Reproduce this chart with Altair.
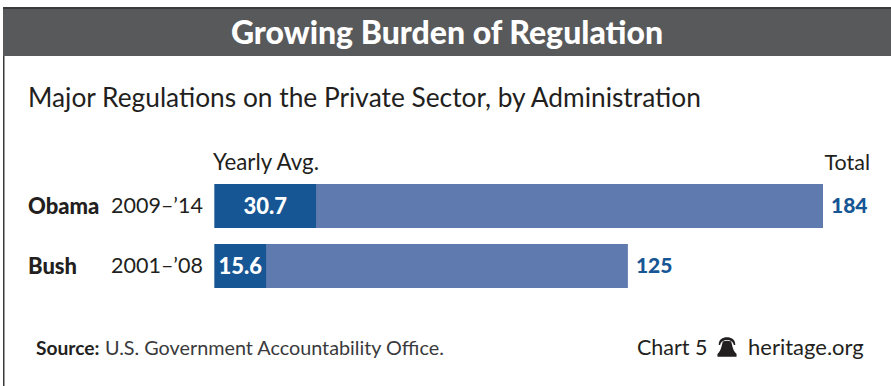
import altair as alt
import pandas as pd

# Values
administrations = ["Obama", "Bush"]
periods = ["2009–’14", "2001–’08"]
yearly_avg = [30.7, 15.6]
totals = [184, 125]

NAVY = "#165694"
STEEL = "#5f7aaf"
INK = "#231f20"
SLATE = "#58595b"
RULE = "#3a3a3c"
FONT = "Lato"

# Liberty-bell logo in symbol units
BELL = (
    "M-0.85 -0.2 C-0.85 -0.8 -0.45 -1 0 -1 C0.45 -1 0.85 -0.8 0.85 -0.2 "
    "L0.7 -0.2 C0.62 -0.58 0.32 -0.72 0 -0.72 C-0.32 -0.72 -0.62 -0.58 -0.7 -0.2 Z "
    "M-0.42 -0.56 C-0.15 -0.66 0.15 -0.66 0.42 -0.56 C0.52 -0.3 0.58 0.25 0.82 0.55 "
    "L0.98 0.72 L0.98 1 L-0.98 1 L-0.98 0.72 L-0.82 0.55 C-0.58 0.25 -0.52 -0.3 -0.42 -0.56 Z"
)

rows = pd.DataFrame(
    {"admin": administrations, "period": periods, "avg": yearly_avg, "total": totals}
)

x_scale = alt.Scale(domain=[0, 184], range=[214.5, 823])
y_scale = alt.Scale(
    domain=administrations, range=[184, 288], paddingInner=0.2667, paddingOuter=0
)
x_at = lambda f: alt.X(f, type="quantitative", scale=x_scale, axis=None)
y_band = alt.Y("admin:N", scale=y_scale, axis=None, sort=administrations)
y_mid = alt.Y("admin:N", scale=y_scale, axis=None, bandPosition=0.5, sort=administrations)


def note(text, x, y, size, color=INK, weight="normal", align="left"):
    """Fixed piece of text placed in page pixels."""
    return (
        alt.Chart(pd.DataFrame({"t": [text]}))
        .mark_text(
            font=FONT,
            fontSize=size,
            fontWeight=weight,
            color=color,
            align=align,
            baseline="alphabetic",
        )
        .encode(text="t:N", x=alt.value(x), y=alt.value(y))
    )


def panel(x, x2, y, y2, color):
    return alt.Chart(pd.DataFrame({"a": [0]})).mark_rect(color=color).encode(
        x=alt.value(x), x2=alt.value(x2), y=alt.value(y), y2=alt.value(y2)
    )


base = alt.Chart(rows)

total_bars = base.mark_bar(color=STEEL).encode(x=x_at("total"), x2=alt.value(214.5), y=y_band)
avg_bars = base.mark_bar(color=NAVY).encode(x=x_at("avg"), x2=alt.value(214.5), y=y_band)

name_labels = base.mark_text(
    font=FONT, fontSize=22, fontWeight=900, color=INK, align="left", dy=1
).encode(x=alt.value(28), y=y_mid, text="admin:N")
period_labels = base.mark_text(
    font=FONT, fontSize=21.5, color=INK, align="left", dy=1
).encode(x=alt.value(111), y=y_mid, text="period:N")
avg_labels = (
    base.transform_calculate(mid="datum.avg / 2")
    .mark_text(font=FONT, fontSize=22, fontWeight=900, color="white", align="center", dy=1)
    .encode(x=x_at("mid"), y=y_mid, text=alt.Text("avg:Q", format=".1f"))
)
total_labels = base.mark_text(
    font=FONT, fontSize=21, fontWeight=900, color=NAVY, align="left", dx=8, dy=1
).encode(x=x_at("total"), y=y_mid, text="total:Q")

bell = (
    alt.Chart(pd.DataFrame({"a": [0]}))
    .mark_point(shape=BELL, filled=True, size=380, color=INK, opacity=1)
    .encode(x=alt.value(727), y=alt.value(347))
)

chart = alt.layer(
    panel(3, 4.5, 8, 386, RULE),
    panel(3, 891, 8, 56, SLATE),
    panel(3, 891, 7, 9, RULE),
    total_bars,
    avg_bars,
    name_labels,
    period_labels,
    avg_labels,
    total_labels,
    note("Growing Burden of Regulation", 447, 44, 32, "white", 900, "center"),
    note("Major Regulations on the Private Sector, by Administration", 28, 107, 26.3),
    note("Yearly Avg.", 213, 170, 22.3),
    note("Total", 870, 170, 21.5, align="right"),
    note("Source:", 36, 355, 19.2, weight=700),
    note("U.S. Government Accountability Office.", 105, 355, 19.8, color="#3a3a3c"),
    note("Chart 5", 637, 355, 21.5),
    note("heritage.org", 748, 355, 22),
    bell,
).properties(
    width=891,
    height=386,
    padding=0,
    autosize=alt.AutoSizeParams(type="none"),
    background="white",
).configure_view(stroke=None)

chart.save("out.html", embed_options={"renderer": "svg", "actions": False})
